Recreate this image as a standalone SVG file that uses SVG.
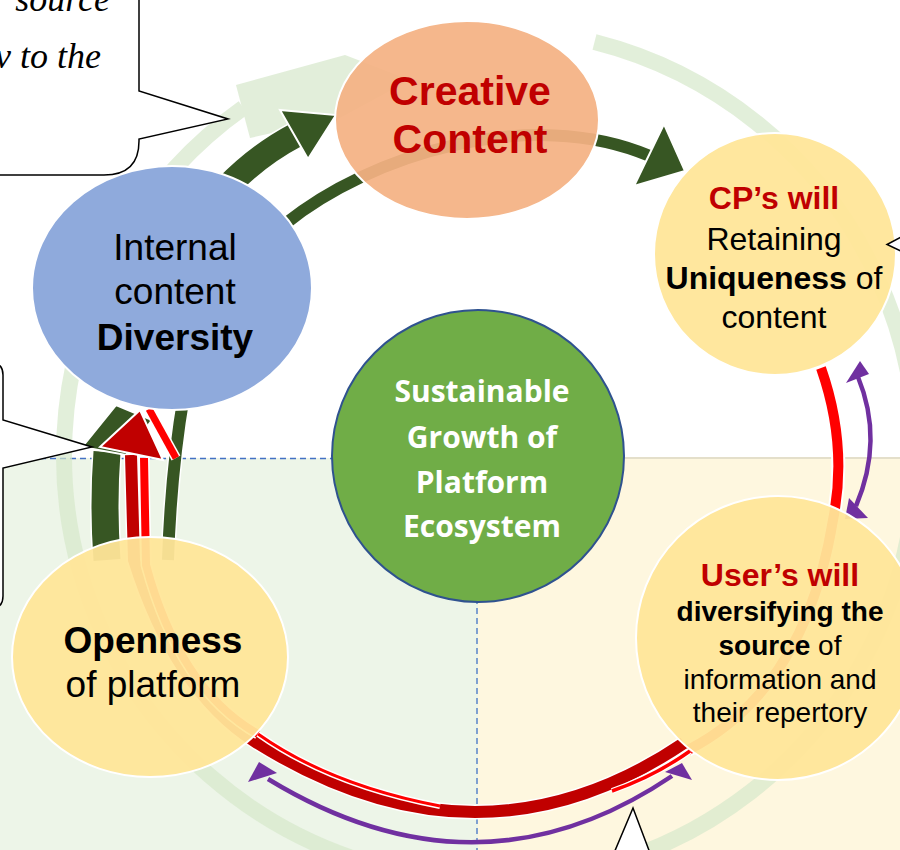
<svg xmlns="http://www.w3.org/2000/svg" width="900" height="850" viewBox="0 0 900 850">
<defs>
<style>
.t{font-family:"Liberation Sans",Arial,sans-serif;text-anchor:middle;fill:#000;}
.b{font-weight:bold;}
.red{fill:#c00000;}
.ctr{font-family:"Open Sans","Liberation Sans",sans-serif;font-weight:bold;font-size:30px;fill:#fff;text-anchor:middle;}
.call{fill:#fff;stroke:#000;stroke-width:1.5;stroke-linejoin:miter;}
.callt{font-family:"Liberation Serif","Times New Roman",serif;font-style:italic;font-size:36px;fill:#000;text-anchor:end;}
.nodeY{fill:#ffe699;fill-opacity:0.95;stroke:#fff;stroke-width:2;}
.wl{fill:none;stroke:#fff;}
.dg{fill:none;stroke:#375623;}
.dr{fill:none;stroke:#c00000;}
.br{fill:none;stroke:#ff0000;}
.pu{fill:none;stroke:#7030a0;stroke-width:4.5;}
.puh{fill:#7030a0;}
.ring{fill:none;stroke:#d6e8cb;stroke-width:16;}
</style>
</defs>
<rect width="900" height="850" fill="#fff"/>
<g id="background">
<rect x="0" y="458" width="478" height="392" fill="#edf5e8"/>
<rect x="478" y="458" width="422" height="392" fill="#fef7df"/>
<line x1="478" y1="458" x2="900" y2="458" stroke="#e4dfca" stroke-width="2"/>
<line x1="0" y1="458.5" x2="478" y2="458.5" stroke="#4472c4" stroke-width="1.3" stroke-dasharray="6 4"/>
<line x1="477" y1="458" x2="477" y2="850" stroke="#4472c4" stroke-width="1.3" stroke-dasharray="6 4"/>
<g opacity="0.7">
<path class="ring" d="M 594.5,42 A 426 426 0 1 1 243.3,107.7"/>
<polygon points="236,85 250,138 340,118 410,80 345,55" fill="#d6e8cb"/>
</g>
</g>
<g id="connectors">
<!-- thick green: Openness to Diversity to Creative Content -->
<path class="wl" stroke-width="30" d="M 107,560 Q 103,505 107,452"/>
<path class="dg" stroke-width="27" d="M 107,560 Q 103,505 107,452"/>
<polygon points="82,447 116,405 152,420 126,455" fill="#375623" stroke="#fff" stroke-width="2"/>
<path class="wl" stroke-width="28" d="M 226,188 Q 258,155 296,135"/>
<path class="dg" stroke-width="25" d="M 226,188 Q 258,155 296,135"/>
<polygon points="280,110 336,115 308,159" fill="#375623" stroke="#fff" stroke-width="2"/>
<!-- thin green inner arc -->
<path class="wl" stroke-width="15" d="M 168,560 Q 171,470 184,395"/>
<path class="dg" stroke-width="12" d="M 168,560 Q 171,470 184,395"/>
<path class="wl" stroke-width="15" d="M 285,224 C 370,155 530,105 650,156"/>
<path class="dg" stroke-width="12" d="M 285,224 C 370,155 530,105 650,156"/>
<polygon points="664,124 685,171 634,186" fill="#375623" stroke="#fff" stroke-width="2"/>
<!-- red arrows -->
<path class="wl" stroke-width="14" d="M 821,368 Q 848,445 833,520 Q 805,690 688,750"/>
<path class="br" stroke-width="10" d="M 821,368 Q 848,445 833,520 Q 805,690 688,750"/>
<path class="wl" stroke-width="15" d="M 684,743 Q 478,882 254,741 Q 175,690 134,560 L 131,455"/>
<path class="dr" stroke-width="12" d="M 684,743 Q 478,882 254,741 Q 175,690 134,560 L 131,455"/>
<path class="wl" stroke-width="6" d="M 690,751 Q 655,776 612,791"/>
<path class="br" stroke-width="3.5" d="M 690,751 Q 655,776 612,791"/>
<path class="wl" stroke-width="6" d="M 258,734 Q 330,785 440,806"/>
<path class="br" stroke-width="3" d="M 258,734 Q 330,785 440,806"/>
<path class="wl" stroke-width="11" d="M 258,734 Q 180,690 146,565 L 144,458"/>
<path class="br" stroke-width="8" d="M 258,734 Q 180,690 146,565 L 144,458"/>
<path class="wl" stroke-width="10" d="M 149,409 L 176,458"/>
<path class="br" stroke-width="7" d="M 149,409 L 176,458"/>
<polygon points="100,447 140,410 163,460" fill="#c00000" stroke="#fff" stroke-width="2"/>
<!-- purple double arrows -->
<path class="pu" d="M 858,377 Q 884,440 856,506"/>
<polygon class="puh" points="860,361 869,374 846,383"/>
<polygon class="puh" points="845,519 849,498 868,518"/>
<path class="pu" stroke-width="5" d="M 268,779 Q 478,907 672,776"/>
<polygon class="puh" points="259,762 277,773 248,782"/>
<polygon class="puh" points="682,763 692,780 665,772"/>
</g>
<g id="node-creative-content">
<ellipse cx="467" cy="120" rx="132" ry="99" fill="#f4b183" fill-opacity="0.93" stroke="#fff" stroke-width="2"/>
<text class="t b red" x="470" y="105" font-size="41">Creative</text>
<text class="t b red" x="470" y="153" font-size="41">Content</text>
</g>
<g id="node-internal-diversity">
<ellipse cx="172" cy="288" rx="140" ry="122" fill="#8faadc" stroke="#fff" stroke-width="2"/>
<text class="t" x="175" y="260" font-size="37">Internal</text>
<text class="t" x="175" y="304" font-size="37">content</text>
<text class="t b" x="175" y="350" font-size="37">Diversity</text>
</g>
<g id="node-cp-will">
<circle class="nodeY" cx="775" cy="254" r="121"/>
<text class="t b red" x="774" y="209" font-size="32">CP’s will</text>
<text class="t" x="774" y="250" font-size="32">Retaining</text>
<text class="t" x="774" y="289" font-size="32"><tspan font-weight="bold">Uniqueness</tspan> of</text>
<text class="t" x="774" y="328" font-size="32">content</text>
</g>
<g id="node-sustainable-growth">
<circle cx="478" cy="456" r="146" fill="#70ad47" stroke="#2f528f" stroke-width="2"/>
<text class="ctr" x="482" y="402">Sustainable</text>
<text class="ctr" x="482" y="448">Growth of</text>
<text class="ctr" x="482" y="493">Platform</text>
<text class="ctr" x="482" y="537">Ecosystem</text>
</g>
<g id="node-openness">
<ellipse class="nodeY" cx="150" cy="657" rx="138" ry="120"/>
<text class="t b" x="153" y="653" font-size="37">Openness</text>
<text class="t" x="153" y="697" font-size="37">of platform</text>
</g>
<g id="node-user-will">
<circle class="nodeY" cx="778" cy="638" r="142"/>
<text class="t b red" x="780" y="586" font-size="32">User’s will</text>
<text class="t b" x="780" y="621" font-size="28">diversifying the</text>
<text class="t" x="780" y="655" font-size="28"><tspan font-weight="bold">source</tspan> of</text>
<text class="t" x="780" y="689" font-size="28">information and</text>
<text class="t" x="780" y="722" font-size="28">their repertory</text>
</g>
<g id="callouts">
<path class="call" d="M -5,-5 L 139,-5 L 139,91 L 228,119 L 139,139 L 139,141 C 139,165 126,175 104,175 L -5,175 Z"/>
<text class="callt" x="110" y="11">source</text>
<text class="callt" x="101" y="68">v to the</text>
<path class="call" d="M -10,363 L -8,363 Q 3,363 3,375 L 3,420 L 92,447 L 3,468 L 3,596 Q 3,608 -8,608 L -10,608 Z"/>
<path class="call" d="M 903,236 L 887,244.5 L 903,252 Z"/>
<path class="call" d="M 614,853 L 633,808 L 650,853 Z"/>
</g>
</svg>
